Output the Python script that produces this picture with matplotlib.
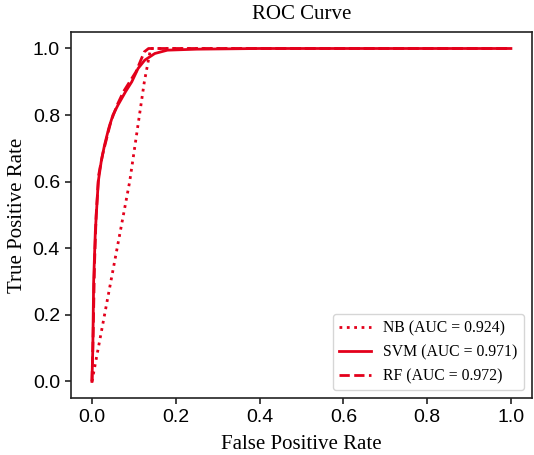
import numpy as np
import matplotlib
matplotlib.use("Agg")
import matplotlib.pyplot as plt

# ROC points
nb_fpr = [0.0, 0.045, 0.09, 0.125, 0.14, 1.0]
nb_tpr = [0.0, 0.30, 0.60, 0.90, 1.0, 1.0]

svm_fpr = [0.0, 0.002, 0.004, 0.008, 0.015, 0.022, 0.03, 0.04, 0.05, 0.062,
           0.08, 0.095, 0.11, 0.126, 0.15, 0.18, 0.25, 0.4, 1.0]
svm_tpr = [0.0, 0.10, 0.30, 0.45, 0.60, 0.66, 0.71, 0.76, 0.80, 0.83,
           0.87, 0.90, 0.94, 0.965, 0.985, 0.995, 0.998, 1.0, 1.0]

rf_fpr = [0.0, 0.003, 0.006, 0.01, 0.016, 0.025, 0.035, 0.045, 0.06, 0.075,
          0.09, 0.105, 0.115, 0.125, 0.135, 1.0]
rf_tpr = [0.0, 0.15, 0.35, 0.50, 0.62, 0.68, 0.73, 0.78, 0.83, 0.87,
          0.90, 0.93, 0.96, 0.99, 1.0, 1.0]

labels = ["NB (AUC = 0.924)", "SVM (AUC = 0.971)", "RF (AUC = 0.972)"]

red = '#e3001b'
serif = 'Liberation Serif'
sans = 'Liberation Sans'

fig = plt.figure(figsize=(5.34, 4.55), dpi=100)
ax = fig.add_axes([0.133, 0.125, 0.863, 0.805])

ax.plot(nb_fpr, nb_tpr, ':', color=red, lw=2, label=labels[0])
ax.plot(svm_fpr, svm_tpr, '-', color=red, lw=2, label=labels[1])
ax.plot(rf_fpr, rf_tpr, '--', color=red, lw=2, label=labels[2])

ax.set_xlim(-0.05, 1.05)
ax.set_ylim(-0.05, 1.05)
ax.set_xticks(np.arange(0, 1.01, 0.2))
ax.set_yticks(np.arange(0, 1.01, 0.2))
ax.tick_params(direction='out', length=4.5, width=1.2, labelsize=14, color='#222222')
for lab in ax.get_xticklabels() + ax.get_yticklabels():
    lab.set_fontfamily(sans)
for sp in ax.spines.values():
    sp.set_linewidth(1.2)
    sp.set_color('#222222')

ax.set_xlabel('False Positive Rate', fontfamily=serif, fontsize=15, labelpad=6)
ax.set_ylabel('True Positive Rate', fontfamily=serif, fontsize=15, labelpad=4)
ax.set_title('ROC Curve', fontfamily=serif, fontsize=15, pad=9)

ax.legend(loc='lower right', prop={'family': serif, 'size': 11.3})

fig.savefig('out.png', dpi=100)
